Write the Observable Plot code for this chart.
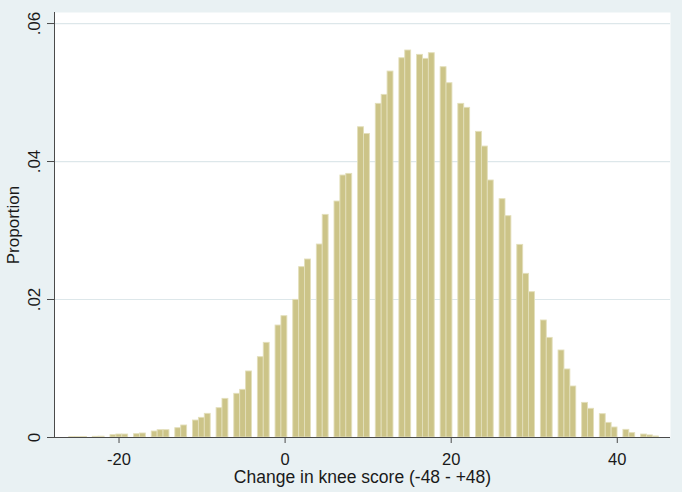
<!DOCTYPE html>
<html><head><meta charset="utf-8">
<script src="https://cdn.jsdelivr.net/npm/d3@7"></script>
<script src="https://cdn.jsdelivr.net/npm/@observablehq/plot@0.6"></script>
<style>
html,body{margin:0;padding:0;background:#e9f1f3;}
#chart svg{display:block;}
</style></head><body><div id="chart"></div>
<script>
// Change in knee score (integer values) and the proportion of patients at each value
const scores = [
  -26,-25,-24,-23,-22,-21,-20,-19,-18,-17,-16,-15,-14,-13,-12,-11,-10,-9,
  -8,-7,-6,-5,-4,-3,-2,-1,0,1,2,3,4,5,6,7,8,9,
  10,11,12,13,14,15,16,17,18,19,20,21,22,23,24,25,26,27,
  28,29,30,31,32,33,34,35,36,37,38,39,40,41,42,43,44,45
];
const proportions = [
  0.00005,0.00005,0.00007,0.0001,0.00012,0.00034,0.00043,0.00043,0.00048,0.00058,0.00087,0.00106,0.00106,0.00135,0.00174,0.00246,0.00285,0.00343,
  0.00425,0.0056,0.00633,0.00691,0.00957,0.01164,0.01372,0.01623,0.01758,0.01995,0.02469,0.0258,0.02797,0.03227,0.0342,0.03797,0.03821,0.04497,
  0.044,0.04836,0.04966,0.05304,0.05497,0.05609,0.05546,0.05488,0.0557,0.05367,0.05135,0.04836,0.04778,0.0443,0.04217,0.03725,0.03454,0.03208,
  0.02792,0.02372,0.02106,0.01696,0.01444,0.01261,0.00986,0.00739,0.00502,0.00416,0.00338,0.00212,0.00145,0.00111,0.00063,0.00043,0.0003,0.00015
];
const nBins = 100;
const xTicks = [-20, 0, 20, 40];
const yTicks = [0, 0.02, 0.04, 0.06];
const yTickLabels = ["0", ".02", ".04", ".06"];
const xLabel = "Change in knee score (-48 - +48)";
const yLabel = "Proportion";
const xDomain = [-27.77, 46.41];
const yDomain = [0, 0.0616];

// histogram bins (Stata style: 100 equal bins from min to max)
const lo = d3.min(scores), hi = d3.max(scores);
const binW = (hi - lo) / nBins;
const bars = scores.map((k, idx) => {
  const i = Math.min(nBins - 1, Math.floor((k - lo) / binW + 1e-9));
  return {x1: lo + i * binW, x2: lo + (i + 1) * binW, y: proportions[idx]};
});

const ink = "#1a1a1a";
const chart = Plot.plot({
  width: 682,
  height: 492,
  marginLeft: 54,
  marginRight: 12,
  marginTop: 12,
  marginBottom: 55,
  style: {background: "#e9f1f3", fontFamily: "'Liberation Sans', Arial, sans-serif", color: ink},
  x: {domain: xDomain, axis: null},
  y: {domain: yDomain, axis: null},
  marks: [
    Plot.frame({fill: "white", stroke: "none"}),
    Plot.gridY(yTicks.slice(1), {stroke: "#dde7ea", strokeOpacity: 1, strokeWidth: 1.2}),
    Plot.rectY(bars, {x1: "x1", x2: "x2", y: "y", fill: "#ccc488", stroke: "#e3dfbb", strokeWidth: 0.9, inset: 0}),
    Plot.ruleY([0], {stroke: "#4a4a4a", strokeWidth: 1}),
    Plot.ruleX([xDomain[0]], {stroke: "#4a4a4a", strokeWidth: 1}),
    Plot.axisY({ticks: yTicks, tickSize: 7, tickFormat: () => "", stroke: "#4a4a4a", label: null}),
    Plot.axisX({ticks: xTicks, tickSize: 6, tickFormat: () => "", stroke: "#4a4a4a", label: null}),
    Plot.text(yTicks, {y: d => d, frameAnchor: "left", dx: -20, rotate: -90, text: (d, i) => yTickLabels[i], fontSize: 17, fill: ink, textAnchor: "middle", lineAnchor: "middle"}),
    Plot.text(xTicks, {x: d => d, frameAnchor: "bottom", dy: 22, text: d => String(d), fontSize: 16.5, fill: ink, textAnchor: "middle", lineAnchor: "middle"}),
    Plot.text([xLabel], {frameAnchor: "bottom", dy: 40, text: d => d, fontSize: 17.5, fill: ink, textAnchor: "middle", lineAnchor: "middle"}),
    Plot.text([yLabel], {frameAnchor: "left", dx: -41, rotate: -90, text: d => d, fontSize: 17, fill: ink, textAnchor: "middle", lineAnchor: "middle"})
  ]
});
document.getElementById("chart").appendChild(chart);
</script>
</body></html>
